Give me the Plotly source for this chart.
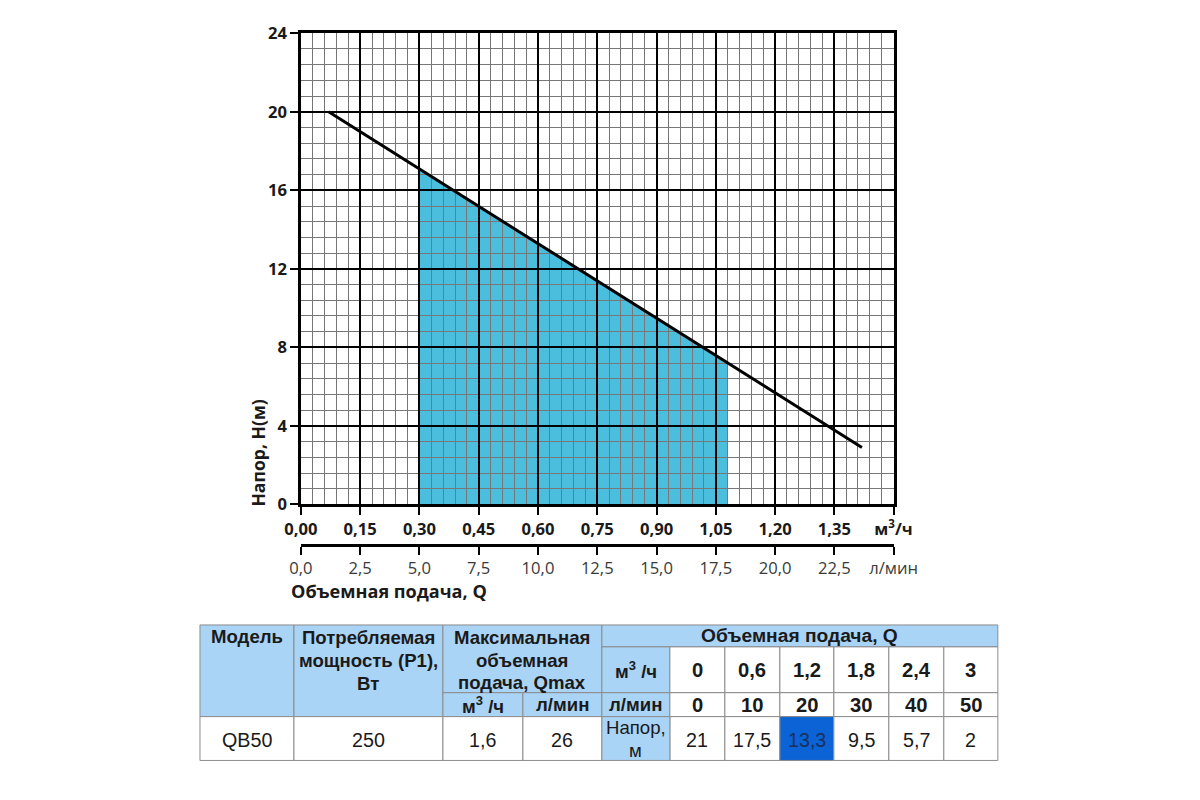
import plotly.graph_objects as go

# pump curve QB50: head vs flow
q_line = [0.07, 1.42]      # m3/h
h_line = [20.0, 2.9]       # m
# working range (shaded)
q_work = [0.30, 1.08]
h_work = [17.1, 7.2]

q_tick_vals = [0.0, 0.15, 0.30, 0.45, 0.60, 0.75, 0.90, 1.05, 1.20, 1.35, 1.50]
q_tick_text = ["0,00", "0,15", "0,30", "0,45", "0,60", "0,75", "0,90", "1,05",
               "1,20", "1,35", "м<sup>3</sup>/ч"]
l_tick_vals = [0.0, 2.5, 5.0, 7.5, 10.0, 12.5, 15.0, 17.5, 20.0, 22.5, 25.0]
l_tick_text = ["0,0", "2,5", "5,0", "7,5", "10,0", "12,5", "15,0", "17,5",
               "20,0", "22,5", "л/мин"]
h_tick_vals = [0, 4, 8, 12, 16, 20, 24]

# table data
model = "QB50"
power = "250"
qmax_m3 = "1,6"
qmax_l = "26"
flow_m3 = ["0", "0,6", "1,2", "1,8", "2,4", "3"]
flow_l = ["0", "10", "20", "30", "40", "50"]
head = ["21", "17,5", "13,3", "9,5", "5,7", "2"]
highlight = 2

W, H = 1200, 800
LIGHT = "#AAD4F6"
HL = "#0B63D6"
BORDER = "#8C8C8C"
CHART_FONT = "Open Sans"
TABLE_FONT = "Liberation Sans"
M3H_TO_LMIN = 1000 / 60

# the page ends up a little shrunk and shifted in the screenshot, undo that
SX, OX = 0.966, 24.0
SY, OY = 0.975, 18.7


def px(x):
    return (x - OX) / SX / W


def py(y):
    return 1 - (y - OY) / SY / H


def fs(size):
    return round(size / SX, 1)


fig = go.Figure()

fig.add_trace(go.Scatter(x=q_line, y=h_line, mode="lines",
                         line=dict(color="black", width=3),
                         hoverinfo="skip", showlegend=False))
# same curve in l/min, invisible, only so that the second axis is drawn
fig.add_trace(go.Scatter(x=[q * M3H_TO_LMIN for q in q_line], y=h_line, xaxis="x2",
                         mode="lines", line=dict(width=0), opacity=0,
                         hoverinfo="skip", showlegend=False))

shapes = []
# shaded working range, below the grid
path = "M {0},0 L {0},{1} L {2},{3} L {2},0 Z".format(q_work[0], h_work[0], q_work[1], h_work[1])
shapes.append(dict(type="path", path=path, xref="x", yref="y", layer="below",
                   fillcolor="#4BBEDD", line=dict(width=0)))

annotations = []


def cell(x0, x1, y0, y1, fill="white"):
    shapes.append(dict(type="rect", xref="paper", yref="paper",
                       x0=px(x0), x1=px(x1), y0=py(y1), y1=py(y0),
                       fillcolor=fill, line=dict(color=BORDER, width=1)))


def text(x, y, s, bold=False, size=19, color="#1a1a1a"):
    if bold:
        s = "<b>" + s + "</b>"
    annotations.append(dict(x=px(x), y=py(y), xref="paper", yref="paper", text=s,
                            showarrow=False, xanchor="center", yanchor="middle",
                            font=dict(family=TABLE_FONT, size=fs(size), color=color)))


X = [199, 293, 442, 522, 601, 669, 724, 779, 833, 888, 943, 997]
Y = [626, 648, 694, 718, 762]
HS = 18  # header font size

# header
cell(X[0], X[1], Y[0], Y[3], LIGHT)
text((X[0] + X[1]) / 2, 638, "Модель", True, HS)
cell(X[1], X[2], Y[0], Y[3], LIGHT)
text((X[1] + X[2]) / 2, 639, "Потребляемая", True, HS)
text((X[1] + X[2]) / 2, 662, "мощность (P1),", True, HS)
text((X[1] + X[2]) / 2, 685, "Вт", True, HS)
cell(X[2], X[4], Y[0], Y[2], LIGHT)
text((X[2] + X[4]) / 2, 639, "Максимальная", True, HS)
text((X[2] + X[4]) / 2, 662, "объемная", True, HS)
text((X[2] + X[4]) / 2, 684, "подача, Qmax", True, HS)
cell(X[2], X[3], Y[2], Y[3], LIGHT)
text((X[2] + X[3]) / 2, 706, "м<sup>3</sup> /ч", True, HS)
cell(X[3], X[4], Y[2], Y[3], LIGHT)
text((X[3] + X[4]) / 2, 706, "л/мин", True, HS)
cell(X[4], X[11], Y[0], Y[1], LIGHT)
text((X[4] + X[11]) / 2, 637, "Объемная подача, Q", True, 18.5)
cell(X[4], X[5], Y[1], Y[2], LIGHT)
text((X[4] + X[5]) / 2, 671, "м<sup>3</sup> /ч", True, HS)
cell(X[4], X[5], Y[2], Y[3], LIGHT)
text((X[4] + X[5]) / 2, 706, "л/мин", True, HS)

for i in range(6):
    xa, xb = X[5 + i], X[6 + i]
    xc = (xa + xb) / 2
    cell(xa, xb, Y[1], Y[2])
    text(xc, 671, flow_m3[i], True, 19.5)
    cell(xa, xb, Y[2], Y[3])
    text(xc, 706, flow_l[i], True, 19.5)
    if i == highlight:
        cell(xa, xb, Y[3], Y[4], HL)
        text(xc, 741, head[i], False, 19, "#1B2F5C")
    else:
        cell(xa, xb, Y[3], Y[4])
        text(xc, 741, head[i], False)

# data row
cell(X[0], X[1], Y[3], Y[4])
text((X[0] + X[1]) / 2, 741, model)
cell(X[1], X[2], Y[3], Y[4])
text((X[1] + X[2]) / 2, 741, power)
cell(X[2], X[3], Y[3], Y[4])
text((X[2] + X[3]) / 2, 741, qmax_m3)
cell(X[3], X[4], Y[3], Y[4])
text((X[3] + X[4]) / 2, 741, qmax_l)
cell(X[4], X[5], Y[3], Y[4], LIGHT)
text((X[4] + X[5]) / 2, 729, "Напор,", False, 18)
text((X[4] + X[5]) / 2, 752, "м", False, 18)

# axis titles
annotations.append(dict(x=px(257), y=py(453), xref="paper", yref="paper",
                        text="<b>Напор, H(м)</b>", textangle=-90, showarrow=False,
                        xanchor="center", yanchor="middle",
                        font=dict(family=CHART_FONT, size=fs(17), color="#1a1a1a")))
annotations.append(dict(x=px(288), y=py(592), xref="paper", yref="paper",
                        text="<b>Объемная подача, Q</b>", showarrow=False,
                        xanchor="left", yanchor="middle",
                        font=dict(family=CHART_FONT, size=fs(17.5), color="#1a1a1a")))

fig.update_layout(
    width=W, height=H,
    margin=dict(l=0, r=0, t=0, b=0),
    paper_bgcolor="white", plot_bgcolor="white",
    showlegend=False,
    shapes=shapes,
    annotations=annotations,
    xaxis=dict(
        domain=[px(300), px(892.7)], range=[0, 1.5],
        tickmode="array", tickvals=q_tick_vals, ticktext=q_tick_text,
        ticks="outside", ticklen=8, tickwidth=2, tickcolor="black",
        showgrid=True, gridcolor="black", gridwidth=2,
        minor=dict(dtick=0.03, tick0=0, showgrid=True, gridcolor="#777777", gridwidth=1),
        showline=True, linecolor="black", linewidth=2.5, mirror=True,
        zeroline=False, fixedrange=True,
        tickfont=dict(family=CHART_FONT, size=fs(16), color="#1a1a1a", weight="bold"),
    ),
    xaxis2=dict(
        overlaying="x", anchor="free", position=py(545.5), side="bottom",
        domain=[px(300), px(892.7)], range=[0, 25],
        tickmode="array", tickvals=l_tick_vals, ticktext=l_tick_text,
        ticks="outside", ticklen=8, tickwidth=2, tickcolor="black",
        showgrid=False, showline=True, linecolor="black", linewidth=2.5,
        zeroline=False, fixedrange=True,
        tickfont=dict(family=CHART_FONT, size=fs(16), color="#3a3a3a"),
    ),
    yaxis=dict(
        domain=[py(505), py(32)], range=[0, 24],
        tickmode="array", tickvals=h_tick_vals,
        ticks="outside", ticklen=8, tickwidth=2, tickcolor="black",
        showgrid=True, gridcolor="black", gridwidth=2,
        minor=dict(dtick=0.8, tick0=0, showgrid=True, gridcolor="#777777", gridwidth=1),
        showline=True, linecolor="black", linewidth=2.5, mirror=True,
        zeroline=False, fixedrange=True,
        tickfont=dict(family=CHART_FONT, size=fs(16), color="#1a1a1a", weight="bold"),
    ),
)

fig.write_html("out.html", config={"displayModeBar": False})
